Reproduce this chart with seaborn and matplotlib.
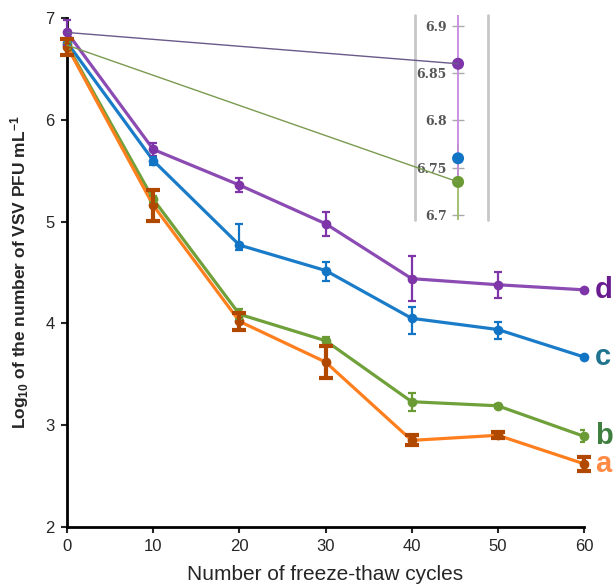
import matplotlib
matplotlib.use('Agg')
import matplotlib.pyplot as plt
from matplotlib.patches import ConnectionPatch
import seaborn as sns
import pandas as pd

sns.set_style('ticks')
plt.rcParams['font.family'] = ['Liberation Sans', 'DejaVu Sans']
plt.rcParams['mathtext.default'] = 'regular'

# data
cycles = [0, 10, 20, 30, 40, 50, 60]
a_vals = [6.72, 5.16, 4.02, 3.62, 2.85, 2.90, 2.62]
a_err = [0.08, 0.15, 0.08, 0.16, 0.05, 0.03, 0.07]
b_vals = [6.735, 5.22, 4.09, 3.83, 3.23, 3.19, 2.89]
b_err = [0.04, 0.03, 0.05, 0.04, 0.09, 0.02, 0.06]
c_vals = [6.76, 5.60, 4.77, 4.52, 4.05, 3.94, 3.67]
c_err_lo = [0.02, 0.04, 0.05, 0.10, 0.15, 0.09, 0.01]
c_err_hi = [0.02, 0.04, 0.21, 0.08, 0.11, 0.07, 0.01]
d_vals = [6.86, 5.71, 5.36, 4.98, 4.44, 4.38, 4.33]
d_err = [0.12, 0.06, 0.07, 0.12, 0.22, 0.13, 0.01]
labels = ['a', 'b', 'c', 'd']
inset_ticks = [6.7, 6.75, 6.8, 6.85, 6.9]

line_cols = {'a': '#FF7F1E', 'b': '#6FA03A', 'c': '#1A7CC8', 'd': '#8B4BB3'}
mark_cols = {'a': '#B04800', 'b': '#6A9B35', 'c': '#1274C4', 'd': '#7E35A8'}
text_cols = {'a': '#FF8A45', 'b': '#3F7F3F', 'c': '#1F7490', 'd': '#6A1B8F'}

series = {'a': a_vals, 'b': b_vals, 'c': c_vals, 'd': d_vals}
df = pd.concat([pd.DataFrame({'cycles': cycles, 'log': v, 'sample': k})
                for k, v in series.items()])

fig = plt.figure(figsize=(6.16, 5.88), dpi=100)
ax = fig.add_axes([0.109, 0.104, 0.839, 0.865])

for k in ['d', 'c', 'b', 'a']:
    sub = df[df['sample'] == k]
    sns.lineplot(data=sub, x='cycles', y='log', ax=ax, color=line_cols[k],
                 lw=2.3, marker='o', markersize=7, markeredgewidth=0,
                 markerfacecolor=mark_cols[k], clip_on=False, zorder=3)

ax.errorbar(cycles, d_vals, yerr=d_err, fmt='none', ecolor=mark_cols['d'],
            elinewidth=1.6, capsize=3, capthick=1.6, zorder=4, clip_on=False)
ax.errorbar(cycles, c_vals, yerr=[c_err_lo, c_err_hi], fmt='none',
            ecolor=mark_cols['c'], elinewidth=1.6, capsize=3, capthick=1.6, zorder=4)
ax.errorbar(cycles, b_vals, yerr=b_err, fmt='none', ecolor=mark_cols['b'],
            elinewidth=1.6, capsize=3, capthick=1.6, zorder=4)
ax.errorbar(cycles, a_vals, yerr=a_err, fmt='none', ecolor=mark_cols['a'],
            elinewidth=3, capsize=5, capthick=3, zorder=5, clip_on=False)

# letters at line ends
for k in labels:
    ax.text(cycles[-1] + 1.3, series[k][-1], k, color=text_cols[k],
            fontsize=21, fontweight='bold', va='center', ha='left', clip_on=False)

ax.set_xlim(0, 60)
ax.set_ylim(2, 7)
ax.set_xticks(range(0, 61, 10))
ax.set_yticks(range(2, 8))
sns.despine(ax=ax)
for s in ['left', 'bottom']:
    ax.spines[s].set_linewidth(2)
    ax.spines[s].set_color('black')
ax.tick_params(direction='out', length=4, width=1.5, labelsize=12, pad=5)
ax.set_xlabel('Number of freeze-thaw cycles', fontsize=15, labelpad=8)
ax.set_ylabel(r'Log$_{10}$ of the number of VSV PFU mL$^{-1}$', fontsize=12.5,
              fontweight='bold', labelpad=10)

# zoomed inset of the starting values
ax_in = fig.add_axes([415 / 616, 1 - 220 / 588, 73 / 616, 205 / 588])
ax_in.patch.set_alpha(0)
ax_in.set_xlim(-0.59, 0.41)
ax_in.set_ylim(6.6947, 6.9116)
for s in ['top', 'bottom', 'right']:
    ax_in.spines[s].set_visible(False)
ax_in.spines['left'].set_position(('data', 0))
ax_in.spines['left'].set_visible(False)
ax_in.set_xticks([])
ax_in.set_yticks(inset_ticks)
ax_in.set_yticklabels([f'{t:g}' for t in inset_ticks])
ax_in.tick_params(axis='y', direction='inout', length=8, width=1, color='#AAAAAA',
                  labelsize=9, labelcolor='#555555', pad=4)
for lab in ax_in.get_yticklabels():
    lab.set_fontweight('bold')
    lab.set_family(['DejaVu Serif'])
ax_in.axvline(-0.59, color='#C8C8C8', lw=2, clip_on=False)
ax_in.axvline(0.41, color='#C8C8C8', lw=2, clip_on=False)

ax_in.errorbar([cycles[0]], [b_vals[0]], yerr=[b_err[0]], fmt='none',
               ecolor='#9DBB6A', elinewidth=1.3)
ax_in.errorbar([cycles[0]], [d_vals[0]], yerr=[d_err[0]], fmt='none',
               ecolor='#C58BE0', elinewidth=1.3)
sns.scatterplot(x=[cycles[0]] * 3, y=[d_vals[0], c_vals[0], b_vals[0]], ax=ax_in,
                hue=['d', 'c', 'b'], palette=[mark_cols['d'], mark_cols['c'], mark_cols['b']],
                s=75, linewidth=0, legend=False, zorder=5)

for vals, col in [(d_vals, '#6A5A8A'), (b_vals, '#7A9A50')]:
    con = ConnectionPatch(xyA=(cycles[0], vals[0]), coordsA=ax.transData,
                          xyB=(cycles[0], vals[0]), coordsB=ax_in.transData,
                          color=col, lw=1, zorder=2)
    fig.add_artist(con)

fig.savefig('out.png', dpi=100)
